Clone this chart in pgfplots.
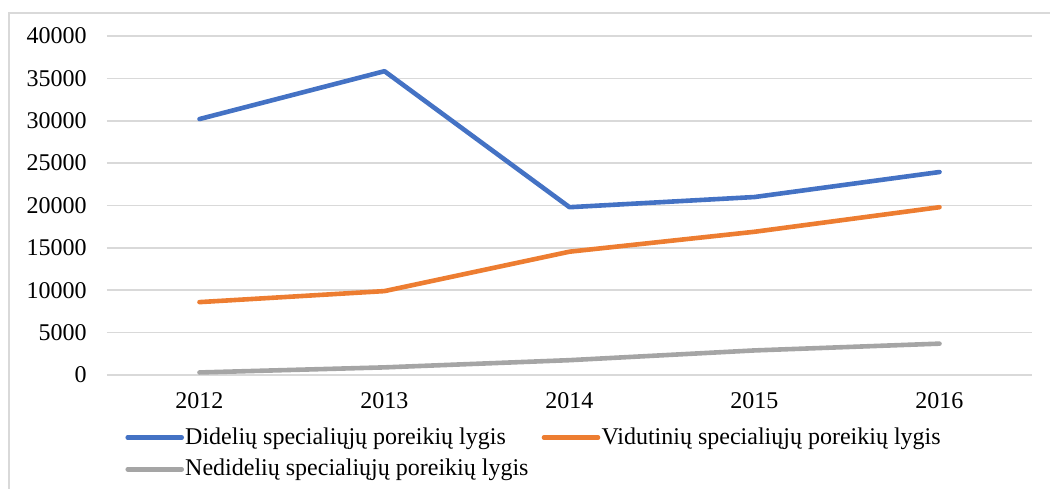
\documentclass[border=0pt]{standalone}
\usepackage{pgfplots}
\pgfplotsset{compat=1.18}
\usepackage{fontspec}
\setmainfont{Liberation Serif}
\definecolor{cblue}{HTML}{4472C4}
\definecolor{corange}{HTML}{ED7D31}
\definecolor{cgray}{HTML}{A5A5A5}
\definecolor{cgrid}{HTML}{D9D9D9}
\begin{document}
\fontsize{12}{14}\selectfont
\begin{tikzpicture}
\path[use as bounding box] (0pt,0pt) rectangle (525pt,244pt);
\draw[cgrid, line width=0.8pt] (4.5pt,-2pt) -- (4.5pt,237.5pt) -- (530pt,237.5pt);
\begin{axis}[
  at={(53.5pt,56.5pt)}, anchor=south west,
  scale only axis, width=462.5pt, height=169.5pt,
  xmin=-0.5, xmax=4.5, ymin=0, ymax=40000,
  xtick={0,1,2,3,4}, xticklabels={2012,2013,2014,2015,2016},
  ytick={0,5000,...,40000},
  scaled y ticks=false,
  /pgf/number format/assume math mode=true,
  /pgf/number format/1000 sep={},
  ymajorgrids, grid style={cgrid, line width=0.8pt},
  axis line style={draw=none}, major tick style={draw=none},
  tick label style={font=\fontsize{12}{14}\selectfont},
  yticklabel style={anchor=east, inner sep=0pt, xshift=-10pt},
  xticklabel style={anchor=north, inner sep=0pt, yshift=-8.5pt},
  legend columns=2,
  legend cell align=left,
  legend style={draw=none, fill=none, at={(0.0195,-0.15)}, anchor=north west,
    inner sep=0pt, font=\fontsize{12}{14}\selectfont,
    nodes={inner sep=0.6pt},
    /tikz/every even column/.append style={column sep=6pt},
    row sep=4.5pt},
  legend image code/.code={\draw[#1, line cap=round] (0pt,0pt) -- (27pt,0pt);},
  every axis plot/.append style={line width=2.3pt, line cap=round, line join=round},
]
\addplot[cblue] coordinates {(0,30200) (1,35850) (2,19800) (3,21000) (4,23950)};
\addlegendentry{Didelių specialiųjų poreikių lygis}
\addplot[corange] coordinates {(0,8600) (1,9900) (2,14550) (3,16900) (4,19800)};
\addlegendentry{Vidutinių specialiųjų poreikių lygis}
\addplot[cgray] coordinates {(0,300) (1,900) (2,1750) (3,2900) (4,3700)};
\addlegendentry{Nedidelių specialiųjų poreikių lygis}
\end{axis}
\end{tikzpicture}
\end{document}
